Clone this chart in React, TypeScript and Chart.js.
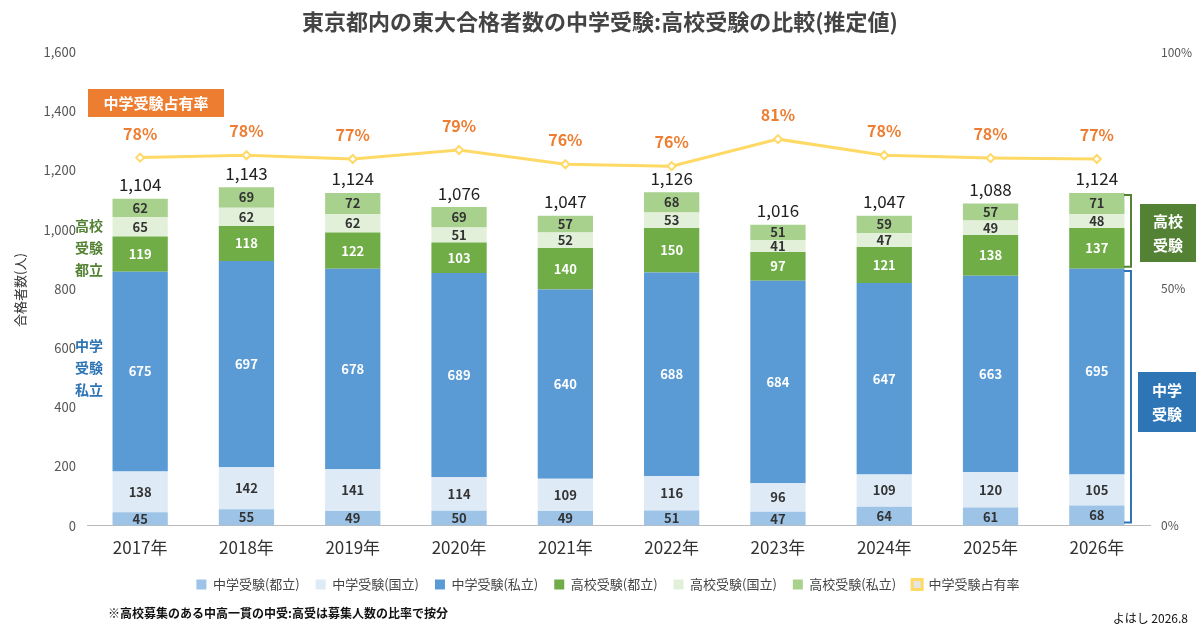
import React, { useEffect, useRef } from "react";
import { Chart, registerables } from "chart.js";
Chart.register(...registerables);

const years = ["2017年","2018年","2019年","2020年","2021年","2022年","2023年","2024年","2025年","2026年"];
const jhPublic = [45,55,49,50,49,51,47,64,61,68];
const jhNational = [138,142,141,114,109,116,96,109,120,105];
const jhPrivate = [675,697,678,689,640,688,684,647,663,695];
const hsPublic = [119,118,122,103,140,150,97,121,138,137];
const hsNational = [65,62,62,51,52,53,41,47,49,48];
const hsPrivate = [62,69,72,69,57,68,51,59,57,71];
const totals = [1104,1143,1124,1076,1047,1126,1016,1047,1088,1124];
const shareVal = [77.7,78.2,77.4,79.3,76.3,75.9,81.6,78.2,77.6,77.4];
const shareLabels = ["78%","78%","77%","79%","76%","76%","81%","78%","78%","77%"];

const FONT = "'Noto Sans CJK JP', 'Noto Sans', sans-serif";

export default function App() {
  const ref = useRef<HTMLCanvasElement>(null);
  useEffect(() => {
    document.body.style.margin = "0";
    const labelPlugin = {
      id: "labels",
      afterDatasetsDraw(chart: any) {
        const ctx = chart.ctx;
        ctx.save();
        ctx.textAlign = "center";
        ctx.textBaseline = "middle";
        for (let d = 0; d < 6; d++) {
          const meta = chart.getDatasetMeta(d);
          const data = chart.data.datasets[d].data;
          meta.data.forEach((bar: any, i: number) => {
            const y = (bar.y + bar.base) / 2;
            ctx.font = `bold 13px ${FONT}`;
            ctx.fillStyle = d === 2 || d === 3 ? "#ffffff" : "#333333";
            ctx.fillText(String(data[i]), bar.x, y);
          });
        }
        const top = chart.getDatasetMeta(5);
        top.data.forEach((bar: any, i: number) => {
          ctx.font = `17px ${FONT}`;
          ctx.fillStyle = "#222";
          ctx.fillText(totals[i].toLocaleString("en-US"), bar.x, bar.y - 14);
        });
        const line = chart.getDatasetMeta(6);
        line.data.forEach((p: any, i: number) => {
          ctx.font = `bold 16px ${FONT}`;
          ctx.fillStyle = "#ed7d31";
          ctx.fillText(shareLabels[i], p.x, p.y - 24);
        });
        ctx.font = `bold 22px ${FONT}`;
        ctx.fillStyle = "#444";
        ctx.fillText("東京都内の東大合格者数の中学受験:高校受験の比較(推定値)", 600, 22);
        ctx.save();
        ctx.translate(20, 290);
        ctx.rotate(-Math.PI / 2);
        ctx.font = `13px ${FONT}`;
        ctx.fillStyle = "#333";
        ctx.fillText("合格者数(人)", 0, 0);
        ctx.restore();
        ctx.fillStyle = "#ed7d31";
        ctx.fillRect(88, 89, 136, 28);
        ctx.fillStyle = "#fff";
        ctx.font = `bold 15px ${FONT}`;
        ctx.fillText("中学受験占有率", 156, 103);
        ctx.font = `bold 14px ${FONT}`;
        ctx.fillStyle = "#548235";
        ["高校", "受験", "都立"].forEach((t, k) => ctx.fillText(t, 89, 226 + k * 22));
        ctx.fillStyle = "#2e75b6";
        ["中学", "受験", "私立"].forEach((t, k) => ctx.fillText(t, 89, 346 + k * 22));
        const y = chart.scales.y;
        const bracket = (y0: number, y1: number, color: string) => {
          ctx.strokeStyle = color;
          ctx.lineWidth = 2;
          ctx.beginPath();
          ctx.moveTo(1124, y0);
          ctx.lineTo(1131, y0);
          ctx.lineTo(1131, y1);
          ctx.lineTo(1124, y1);
          ctx.stroke();
        };
        bracket(y.getPixelForValue(1124) + 2, y.getPixelForValue(868) - 2, "#548235");
        bracket(y.getPixelForValue(860), y.getPixelForValue(0) - 3, "#2e75b6");
        ctx.fillStyle = "#548235";
        ctx.fillRect(1140, 204, 56, 58);
        ctx.fillStyle = "#2e75b6";
        ctx.fillRect(1138, 372, 58, 60);
        ctx.fillStyle = "#fff";
        ctx.font = `bold 15px ${FONT}`;
        ctx.fillText("高校", 1168, 221);
        ctx.fillText("受験", 1168, 245);
        ctx.fillText("中学", 1167, 390);
        ctx.fillText("受験", 1167, 414);
        ctx.fillStyle = "#111";
        ctx.textAlign = "left";
        ctx.font = `bold 12px ${FONT}`;
        ctx.fillText("※高校募集のある中高一貫の中受:高受は募集人数の比率で按分", 108, 613);
        ctx.textAlign = "right";
        ctx.font = `12px ${FONT}`;
        ctx.fillText("よはし 2026.8", 1188, 618);
        ctx.restore();
      },
    };
    const bar = (label: string, data: number[], color: string) => ({
      type: "bar" as const, label, data, backgroundColor: color, stack: "s", yAxisID: "y", order: 1,
      barPercentage: 0.52, categoryPercentage: 1,
    });
    const chart = new Chart(ref.current!, {
      type: "bar",
      data: {
        labels: years,
        datasets: [
          bar("中学受験(都立)", jhPublic, "#9dc3e6"),
          bar("中学受験(国立)", jhNational, "#deebf7"),
          bar("中学受験(私立)", jhPrivate, "#5b9bd5"),
          bar("高校受験(都立)", hsPublic, "#70ad47"),
          bar("高校受験(国立)", hsNational, "#e2f0d9"),
          bar("高校受験(私立)", hsPrivate, "#a9d18e"),
          {
            type: "line" as const, label: "中学受験占有率", data: shareVal, yAxisID: "y1", order: 0,
            borderColor: "#ffd966", borderWidth: 3, pointStyle: "rectRot", pointRadius: 4,
            pointBackgroundColor: "#ffffff", pointBorderColor: "#ffd966", pointBorderWidth: 2,
          } as any,
        ],
      },
      options: {
        animation: false,
        responsive: false,
        layout: { padding: { top: 52, left: 24, right: 8, bottom: 30 } },
        plugins: {
          tooltip: { enabled: false },
          legend: {
            position: "bottom",
            labels: {
              boxWidth: 10, boxHeight: 10, font: { size: 13, family: FONT }, color: "#444", padding: 16,
              sort: (a: any, b: any) => a.datasetIndex - b.datasetIndex,
            },
          },
        },
        scales: {
          x: {
            stacked: true,
            grid: { display: false },
            border: { color: "#bbb" },
            ticks: { font: { size: 17, family: FONT }, color: "#333", padding: 4 },
          },
          y: {
            stacked: true, min: 0, max: 1600,
            ticks: { stepSize: 200, font: { size: 13, family: FONT }, color: "#555",
              callback: (v: any) => Number(v).toLocaleString("en-US") },
            grid: { display: false },
            border: { display: false },
            afterFit: (s: any) => { s.width = 63; },
          },
          y1: {
            position: "right", min: 0, max: 100,
            ticks: { stepSize: 50, font: { size: 12, family: FONT }, color: "#555", callback: (v: any) => v + "%" },
            grid: { display: false },
            border: { display: false },
            afterFit: (s: any) => { s.width = 42; },
          },
        },
      },
      plugins: [labelPlugin],
    });
    return () => chart.destroy();
  }, []);
  return <canvas ref={ref} width={1200} height={631} style={{ display: "block" }} />;
}
